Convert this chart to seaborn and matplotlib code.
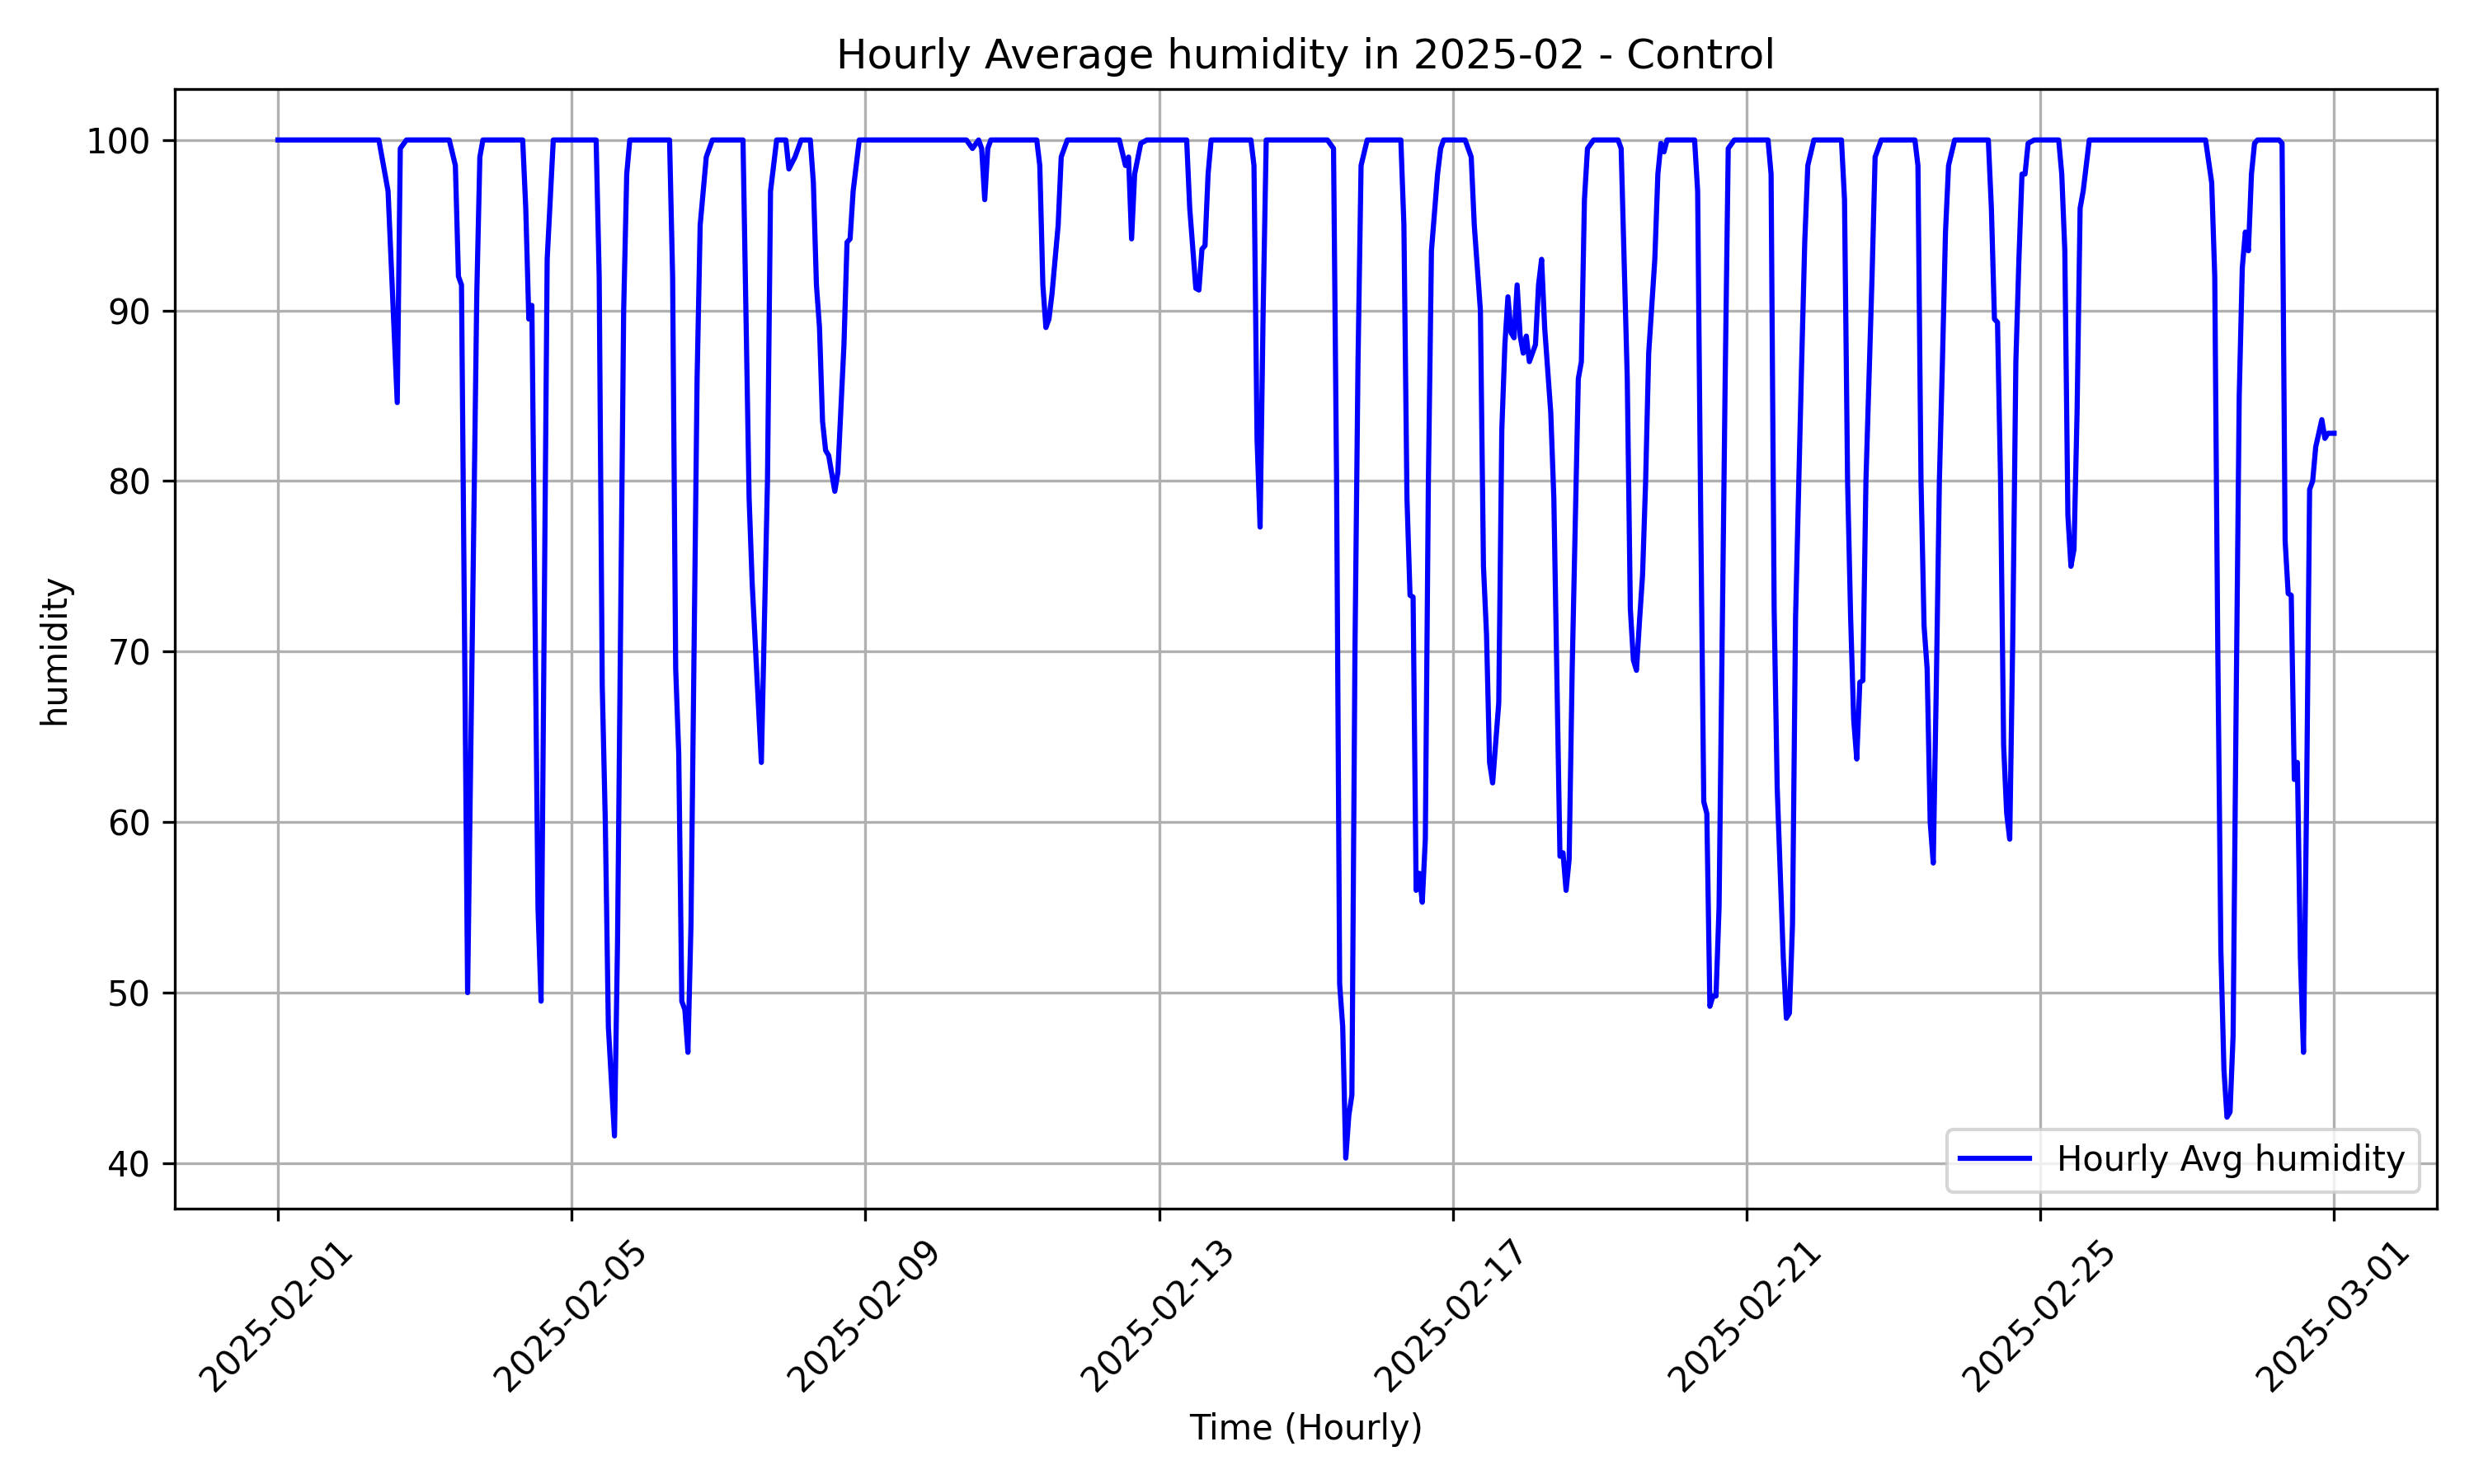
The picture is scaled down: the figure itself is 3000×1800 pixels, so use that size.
import pandas as pd
import matplotlib
matplotlib.use("Agg")
import matplotlib.pyplot as plt
import matplotlib.dates as mdates
import seaborn as sns

# turning points of the hourly series: hours since 2025-02-01 00:00, humidity
hours = [0, 33, 36, 39, 40, 42, 56, 58, 59, 60, 62, 65, 66, 67,
         80, 81, 82, 83, 85, 86, 88, 90,
         104, 105, 106, 107, 108, 110, 111, 113, 114, 115,
         128, 129, 130, 131, 132, 133, 134, 135, 137, 138, 140, 142,
         152, 154, 155, 158, 160, 161, 163, 166, 167, 169, 171, 174, 175, 176, 177, 178, 179, 180,
         182, 183, 185, 186, 187, 188, 190,
         225, 227, 229, 230, 231, 232, 233,
         248, 249, 250, 251, 252, 253, 255, 256, 258,
         275, 277, 278, 279, 280, 282, 284,
         297, 298, 300, 301, 302, 303, 304, 305,
         318, 319, 320, 321, 322, 323,
         343, 345, 346, 347, 348, 349, 350, 351, 352, 353, 354, 356,
         367, 368, 369, 370, 371, 372, 373, 374, 375, 376, 377, 379, 380, 381,
         388, 390, 391, 393, 394, 395, 396, 397, 399, 400, 401, 402, 403, 404, 405, 406, 407, 408,
         409, 410, 411, 412, 413, 414, 416, 417, 419, 420, 421, 422, 423, 425, 426, 427, 428, 430,
         438, 439, 441, 442, 443, 444, 445, 446, 447, 448, 450, 451, 452, 453, 454,
         463, 464, 465, 466, 467, 468, 469, 470, 471, 473, 474, 476,
         487, 488, 489, 490, 492, 493, 494, 495, 496, 498, 499, 500, 502,
         511, 512, 513, 514, 515, 516, 517, 518, 519, 521, 522, 524,
         535, 536, 537, 538, 539, 540, 541, 542, 543, 544, 545, 546, 548,
         559, 560, 561, 562, 563, 564, 565, 566, 567, 568, 569, 570, 571, 572, 574,
         582, 583, 584, 585, 586, 587, 588, 589, 590, 592,
         630, 632, 633, 634, 635, 636, 637, 638, 639, 640, 641, 642, 643, 644, 645, 646, 647,
         654, 655, 656, 657, 658, 659, 660, 661, 662, 663, 664, 665, 666, 668, 669, 670, 672]
humidity = [100, 100, 97, 84.6, 99.5, 100, 100, 98.5, 92, 91.5, 50, 91, 99, 100,
            100, 96, 89.5, 90.3, 55, 49.5, 93, 100,
            100, 92, 68, 60, 48, 41.6, 53, 90, 98, 100,
            100, 92, 69, 64, 49.5, 49, 46.5, 54, 86, 95, 99, 100,
            100, 79, 74, 63.5, 80, 97, 100, 100, 98.3, 99, 100, 100, 97.5, 91.5, 89, 83.5, 81.8, 81.5,
            79.4, 80.5, 88, 94, 94.2, 97, 100,
            100, 99.5, 100, 99.5, 96.5, 99.5, 100,
            100, 98.5, 91.5, 89, 89.5, 91, 95, 99, 100,
            100, 98.5, 99, 94.2, 98, 99.8, 100,
            100, 96, 91.3, 91.2, 93.6, 93.8, 98, 100,
            100, 98.5, 82.5, 77.3, 90, 100,
            100, 99.5, 80, 50.5, 48, 40.3, 42.8, 44, 70, 87, 98.5, 100,
            100, 95, 79, 73.3, 73.2, 56, 57, 55.3, 59, 80, 93.5, 98, 99.5, 100,
            100, 99, 95, 90, 75, 71, 63.5, 62.3, 67, 83, 88, 90.8, 88.7, 88.4, 91.5, 88.5, 87.5, 88.5,
            87, 87.5, 88, 91.5, 93, 89, 84, 79, 58, 58.2, 56, 57.8, 69, 86, 87, 96.5, 99.5, 100,
            100, 99.5, 86, 72.5, 69.5, 68.9, 71.8, 74.5, 80, 87.5, 93, 98, 99.8, 99.3, 100,
            100, 97, 78, 61.2, 60.5, 49.2, 49.8, 49.8, 55, 86, 99.5, 100,
            100, 98, 72.5, 62, 52, 48.5, 48.8, 54, 72, 87, 94, 98.5, 100,
            100, 96.5, 80, 72, 66, 63.7, 68.2, 68.3, 80, 92, 99, 100,
            100, 98.5, 80, 71.5, 69, 60, 57.6, 68, 80, 87, 94.6, 98.5, 100,
            100, 96, 89.5, 89.3, 80, 64.5, 60.5, 59, 71, 87, 93, 98, 98, 99.8, 100,
            100, 98, 93.5, 78, 75, 76, 84, 96, 97, 100,
            100, 97.5, 92, 70, 52.5, 45.5, 42.7, 43, 47.5, 67, 85, 92.5, 94.6, 93.5, 98, 99.8, 100,
            100, 99.8, 76.5, 73.4, 73.3, 62.5, 63.5, 52, 46.5, 61, 79.5, 80, 82, 83.6, 82.5, 82.8, 82.8]

df = pd.DataFrame({
    "time": pd.Timestamp("2025-02-01") + pd.to_timedelta(hours, unit="h"),
    "humidity": humidity,
})

fig, ax = plt.subplots(figsize=(10, 6), dpi=300)
sns.lineplot(data=df, x="time", y="humidity", color="blue", linewidth=1.5,
             label="Hourly Avg humidity", ax=ax)
ax.set_title("Hourly Average humidity in 2025-02 - Control")
ax.set_xlabel("Time (Hourly)")
ax.set_ylabel("humidity")
ax.xaxis.set_major_locator(mdates.DayLocator(bymonthday=[1, 5, 9, 13, 17, 21, 25]))
ax.xaxis.set_major_formatter(mdates.DateFormatter("%Y-%m-%d"))
plt.setp(ax.get_xticklabels(), rotation=45)
ax.grid(True)
ax.legend(loc="lower right")
fig.tight_layout()
fig.savefig("out.png", dpi=300)
